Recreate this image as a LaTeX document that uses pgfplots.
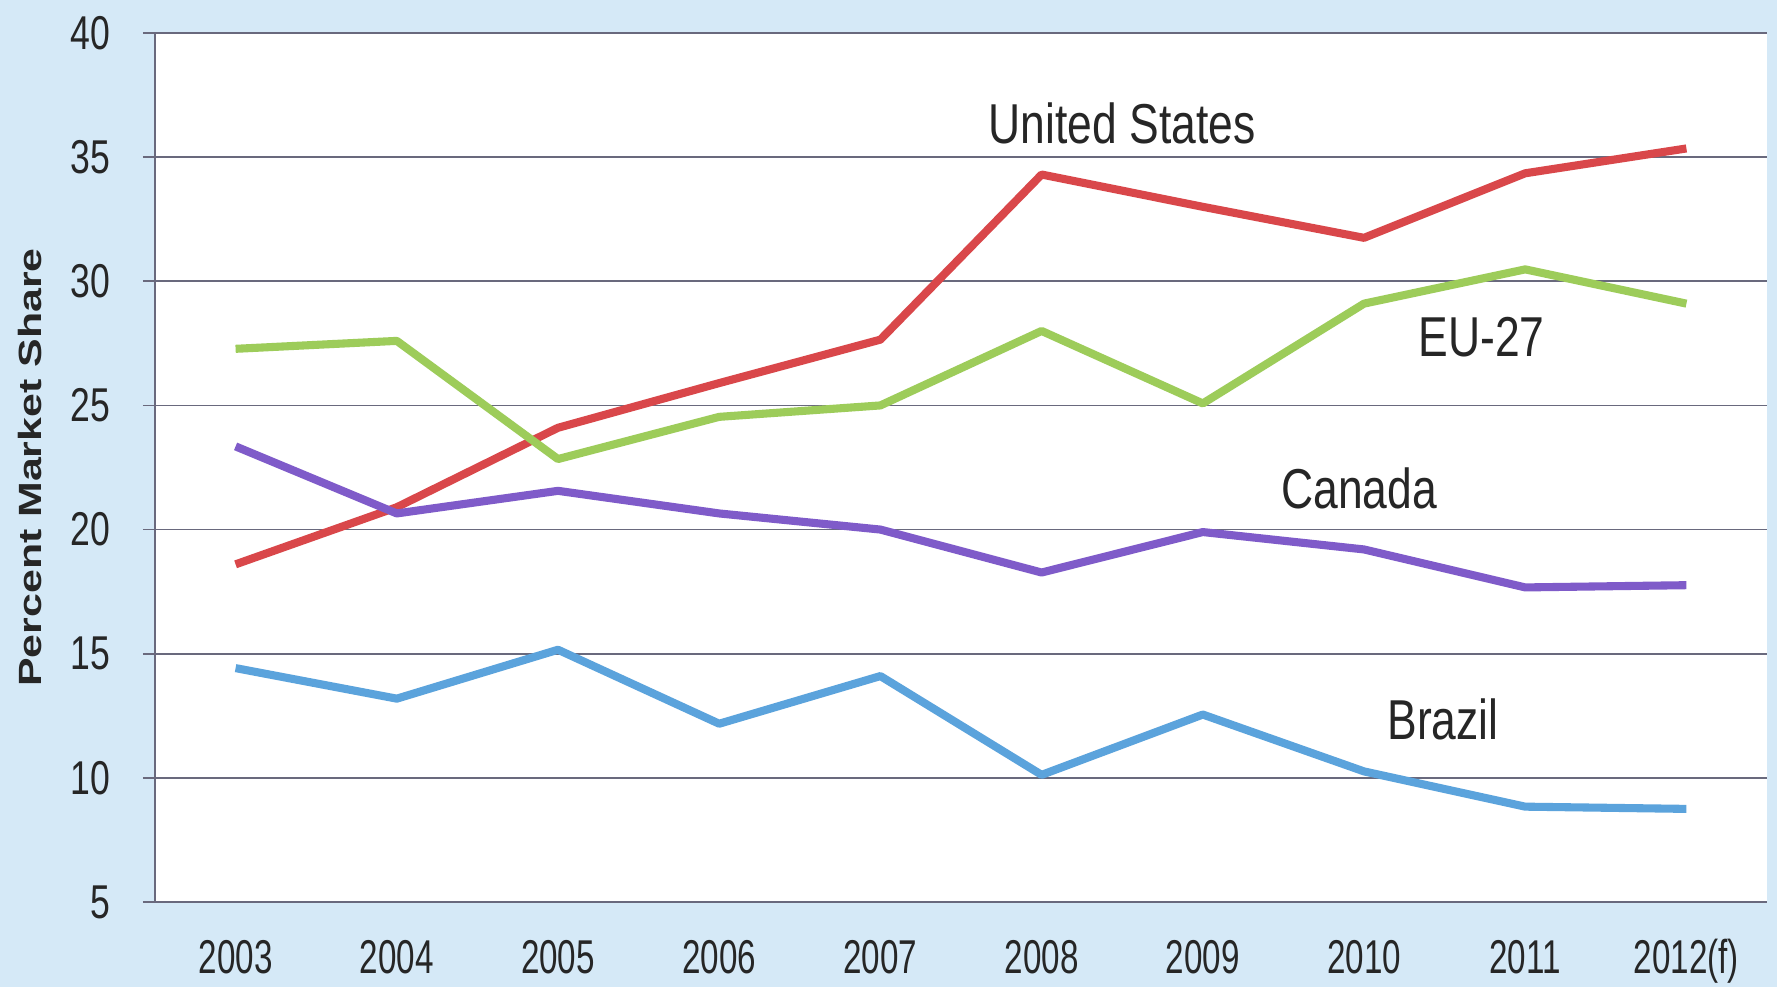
\documentclass[border=0pt]{standalone}
\usepackage{fontspec}
\usepackage{graphicx}
\usepackage{pgfplots}
\pgfplotsset{compat=1.18}
\setmainfont{Liberation Sans}
\newfontfamily\narrow[FakeStretch=0.75]{Liberation Sans}
\newfontfamily\narrowb[FakeStretch=0.7]{Liberation Sans}
\newfontfamily\narrowl[FakeStretch=0.79]{Liberation Sans}
\definecolor{bgblue}{RGB}{213,233,247}
\definecolor{usred}{RGB}{217,71,74}
\definecolor{eugreen}{RGB}{157,204,90}
\definecolor{capurple}{RGB}{127,91,201}
\definecolor{brblue}{RGB}{91,163,220}
\definecolor{gridc}{RGB}{105,105,125}
\begin{document}
\begin{tikzpicture}
\fill[bgblue] (-15.5mm,-8.5mm) rectangle (162.2mm,90.2mm);
\begin{axis}[
  at={(0,0)}, anchor=south west,
  scale only axis,
  width=161.2mm, height=86.9mm,
  xmin=-0.5, xmax=9.5,
  ymin=5, ymax=40,
  ytick={5,10,...,40},
  xtick={0,...,9},
  xticklabels={2003,2004,2005,2006,2007,2008,2009,2010,2011,2012(f)},
  axis background/.style={fill=white},
  axis x line=bottom, axis y line=left,
  axis line style={draw=gridc, line width=0.6pt, -},
  ymajorgrids,
  grid style={draw=gridc, line width=0.5pt},
  x axis line style={draw=none},
  major x tick style={draw=none},
  major y tick style={draw=gridc, line width=0.5pt},
  tick align=outside,
  major tick length=1.2mm,
  /pgf/number format/assume math mode=true,
  ticklabel style={text=black!85},
  xticklabel style={font=\narrowb\fontsize{13.5}{15}\selectfont, anchor=base, inner sep=0pt, yshift=-5.9mm},
  yticklabel style={font=\narrow\fontsize{13.5}{15}\selectfont, anchor=east, inner sep=0pt, xshift=-3.2mm},
  ylabel={\scalebox{1}[0.75]{\bfseries Percent Market Share}},
  ylabel style={at={(axis description cs:-0.0775,0.5)}, anchor=center, font=\fontsize{12.2}{14}\selectfont, text=black!85},
  clip=false,
]
\addplot[usred, line width=2.3pt, line join=round] coordinates {
(0,18.6) (1,20.9) (2,24.1) (3,25.9) (4,27.65) (5,34.3) (6,33.0) (7,31.75) (8,34.35) (9,35.35)};
\addplot[eugreen, line width=2.3pt, line join=round] coordinates {
(0,27.28) (1,27.6) (2,22.84) (3,24.54) (4,25.0) (5,28.0) (6,25.08) (7,29.1) (8,30.48) (9,29.1)};
\addplot[capurple, line width=2.3pt, line join=round] coordinates {
(0,23.35) (1,20.65) (2,21.56) (3,20.65) (4,20.0) (5,18.27) (6,19.9) (7,19.2) (8,17.67) (9,17.76)};
\addplot[brblue, line width=2.3pt, line join=round] coordinates {
(0,14.42) (1,13.19) (2,15.16) (3,12.18) (4,14.1) (5,10.12) (6,12.55) (7,10.26) (8,8.84) (9,8.75)};
\node[font=\narrowl\fontsize{16}{18}\selectfont, text=black!85] at (axis cs:5.5,36.34) {United States};
\node[font=\narrowl\fontsize{16}{18}\selectfont, text=black!85] at (axis cs:7.73,27.74) {EU-27};
\node[font=\narrowl\fontsize{16}{18}\selectfont, text=black!85] at (axis cs:6.97,21.65) {Canada};
\node[font=\narrowl\fontsize{16}{18}\selectfont, text=black!85] at (axis cs:7.49,12.37) {Brazil};
\end{axis}
\end{tikzpicture}
\end{document}
